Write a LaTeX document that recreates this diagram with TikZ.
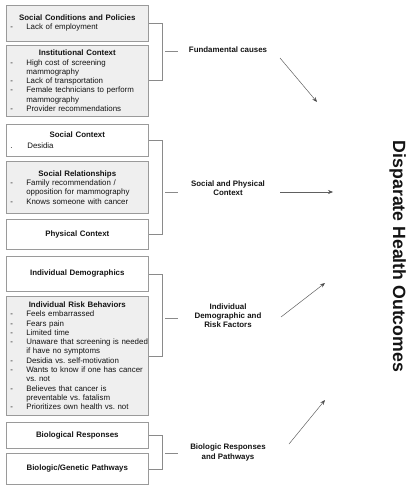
\documentclass[tikz,border=0pt]{standalone}
\usepackage{fontspec}
\setmainfont{Liberation Sans}
\usetikzlibrary{arrows.meta}
\setlength{\parindent}{0pt}
\frenchspacing
\definecolor{boxgray}{HTML}{9A9A9A}
\definecolor{fillgray}{HTML}{EFEFEF}
\definecolor{linegray}{HTML}{8A8A8A}
\definecolor{arrgray}{HTML}{606060}
\definecolor{txt}{HTML}{141414}
\newcommand{\bxtitle}[1]{\centerline{\bfseries #1}\par}
\newcommand{\bxitem}[1]{\makebox[18pt][l]{\hspace{2pt}-}\mbox{#1}\par}
\newcommand{\bxdot}[1]{\makebox[19pt][l]{\hspace{2pt}.}\mbox{#1}\par}
\newcommand{\bxcont}[1]{\hspace*{18pt}\mbox{#1}\par}
\tikzset{
  bx/.style={draw=boxgray, line width=0.6pt, anchor=north west, minimum width=142pt,
    text width=138pt, inner xsep=2pt, inner ysep=0pt, text=txt,
    font=\fontsize{7.9}{9.3}\selectfont},
  bxg/.style={bx, fill=fillgray},
  brk/.style={draw=linegray, line width=0.6pt},
  lbl/.style={font=\bfseries\fontsize{7.9}{9.3}\selectfont, align=center, text=txt, inner sep=0pt},
  arr/.style={draw=arrgray, line width=0.5pt, -{Stealth[length=5pt,width=4pt,fill=black]}}
}
\begin{document}
\begin{tikzpicture}[x=1pt,y=-1pt]
\useasboundingbox (0,0) rectangle (415,489);
% boxes
\node[bxg, minimum height=36pt] (b1) at (6,5) {\bxtitle{Social Conditions and Policies}\bxitem{Lack of employment}};
\node[bxg, minimum height=71pt] (b2) at (6,45) {\bxtitle{Institutional Context}\bxitem{High cost of screening}\bxcont{mammography}\bxitem{Lack of transportation}\bxitem{Female technicians to perform}\bxcont{mammography}\bxitem{Provider recommendations}};
\node[bx, minimum height=32pt] (b3) at (6,124) {\bxtitle{Social Context}\vspace{2pt}\bxdot{Desidia}};
\node[bxg, minimum height=52pt] (b4) at (6,161) {\bxtitle{Social Relationships}\bxitem{Family recommendation /}\bxcont{opposition for mammography}\bxitem{Knows someone with cancer}};
\node[bx, minimum height=30pt] (b5) at (6,219) {\bxtitle{Physical Context}};
\node[bx, minimum height=35pt] (b6) at (6,256) {\bxtitle{Individual Demographics}};
\node[bxg, minimum height=119pt] (b7) at (6,296) {\bxtitle{Individual Risk Behaviors}\bxitem{Feels embarrassed}\bxitem{Fears pain}\bxitem{Limited time}\bxitem{Unaware that screening is needed}\bxcont{if have no symptoms}\bxitem{Desidia vs. self-motivation}\bxitem{Wants to know if one has cancer}\bxcont{vs. not}\bxitem{Believes that cancer is}\bxcont{preventable vs. fatalism}\bxitem{Prioritizes own health vs. not}};
\node[bx, minimum height=26pt] (b8) at (6,422) {\bxtitle{Biological Responses}};
\node[bx, minimum height=31pt] (b9) at (6,453) {\bxtitle{Biologic/Genetic Pathways}};
% brackets
\coordinate (bkx) at (162,0);
\draw[brk] (b1.east) -- (b1.east -| bkx) |- (b2.east);
\draw[brk] (b3.east) -- (b3.east -| bkx) |- (b5.east);
\draw[brk] (b6.east) -- (b6.east -| bkx) |- (b7.east);
\draw[brk] (b8.east) -- (b8.east -| bkx) |- (b9.east);
% stubs
\coordinate (s1a) at (165,51);  \coordinate (s1b) at (178,51);
\coordinate (s2a) at (165,192); \coordinate (s2b) at (178,192);
\coordinate (s3a) at (165,318); \coordinate (s3b) at (178,318);
\coordinate (s4a) at (165,453); \coordinate (s4b) at (178,453);
\draw[brk] (s1a) -- (s1b);
\draw[brk] (s2a) -- (s2b);
\draw[brk] (s3a) -- (s3b);
\draw[brk] (s4a) -- (s4b);
% labels
\node[lbl] (l1) at (228,50) {Fundamental causes};
\node[lbl] (l2) at (228,188.5) {Social and Physical\\Context};
\node[lbl] (l3) at (228,315.5) {Individual\\Demographic and\\Risk Factors};
\node[lbl] (l4) at (228,452.5) {Biologic Responses\\and Pathways};
% title
\node[font=\bfseries\fontsize{17.7}{20}\selectfont, text=txt, rotate=-90, anchor=base, inner sep=0pt] (t) at (393,256.5) {Disparate Health Outcomes};
% arrows
\coordinate (a1s) at (280,58);  \coordinate (a1e) at (317,102);
\coordinate (a2s) at (280,192); \coordinate (a2e) at (333,192);
\coordinate (a3s) at (281,317); \coordinate (a3e) at (325,283);
\coordinate (a4s) at (289,444); \coordinate (a4e) at (325,400);
\draw[arr] (a1s) -- (a1e);
\draw[arr] (a2s) -- (a2e);
\draw[arr] (a3s) -- (a3e);
\draw[arr] (a4s) -- (a4e);
\end{tikzpicture}
\end{document}
